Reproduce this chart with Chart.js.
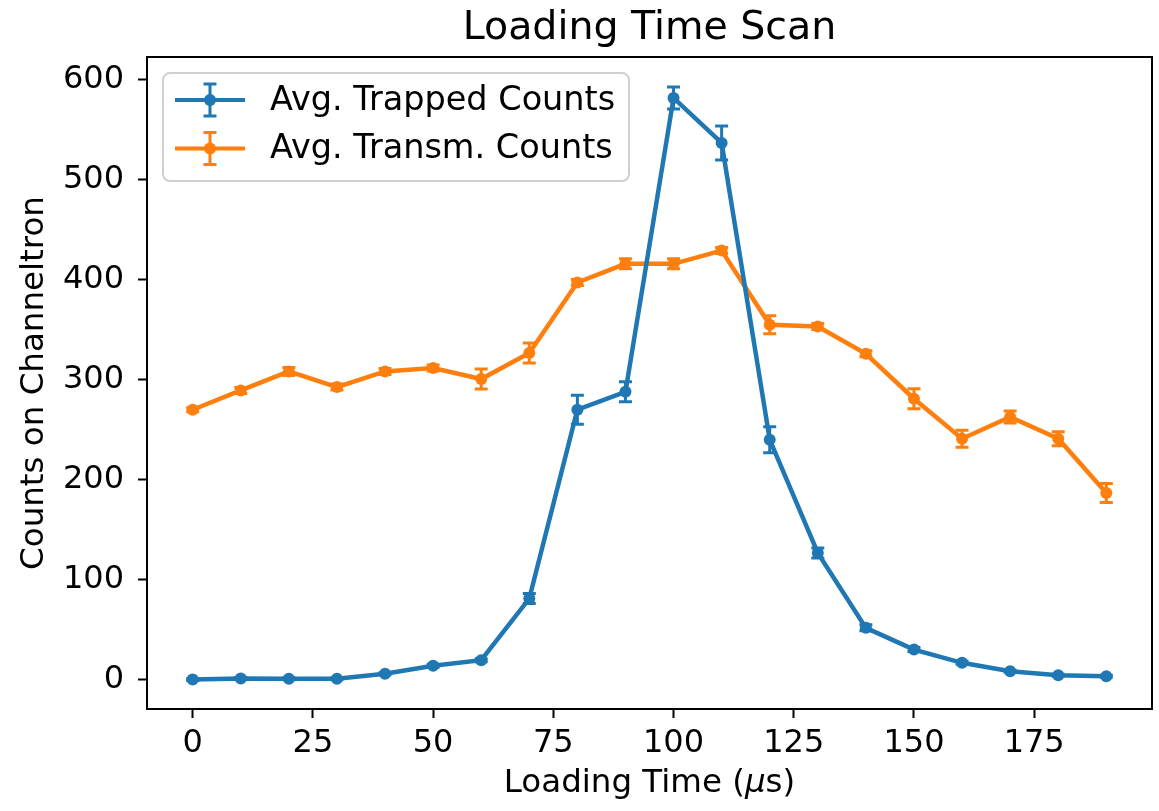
<!DOCTYPE html>
<html lang="en">
<head>
<meta charset="UTF-8">
<title>Loading Time Scan</title>
<style>
    body { margin: 0; background: #fff; }
    #wrap { width: 1159px; height: 811px; position: relative; }
</style>
<script src="https://cdn.jsdelivr.net/npm/chart.js"></script>
</head>
<body>
<div id="wrap"><canvas id="scan"></canvas></div>
<script>
    // loading time in microseconds
    const loadingTimes = [0, 10, 20, 30, 40, 50, 60, 70, 80, 90, 100, 110, 120, 130, 140, 150, 160, 170, 180, 190];

    const trappedCounts = [0, 1, 0.7, 0.7, 5.7, 13.7, 19.3, 81, 270, 288, 582, 537, 240, 126.7, 51.7, 30, 16.7, 8.3, 4.3, 3.3];
    const trappedErr    = [1, 1, 1, 1, 1, 1.5, 1.5, 5, 14.5, 10, 11, 17, 13, 5, 3, 2, 1.5, 1, 1, 1];

    const transmCounts = [270, 289.3, 308.3, 292.7, 308.3, 311.7, 300.7, 326.7, 397.3, 416, 416, 429.3, 355, 353.3, 326, 281, 241, 262.7, 241, 186.7];
    const transmErr    = [2, 3, 4, 3, 3, 3, 10, 10, 3, 5, 5, 3, 9, 3, 3, 10, 8.5, 6, 7, 9.5];

    const xTicks = [0, 25, 50, 75, 100, 125, 150, 175];
    const yTicks = [0, 100, 200, 300, 400, 500, 600];

    const BLUE = '#1f77b4';
    const ORANGE = '#ff7f0e';
    const FONT = "'DejaVu Sans', sans-serif";

    function toPoints(xs, ys, errs) {
        return xs.map((x, i) => ({ x: x, y: ys[i], err: errs[i] }));
    }

    // vertical error bars with caps, drawn under the lines
    const errorBars = {
        id: 'errorBars',
        beforeDatasetsDraw(chart) {
            const ctx = chart.ctx;
            const xs = chart.scales.x, ys = chart.scales.y;
            for (let d = chart.data.datasets.length - 1; d >= 0; d--) {
                const ds = chart.data.datasets[d];
                ctx.save();
                ctx.strokeStyle = ds.borderColor;
                ctx.lineWidth = 3;
                ds.data.forEach(p => {
                    const px = xs.getPixelForValue(p.x);
                    const top = ys.getPixelForValue(p.y + p.err);
                    const bot = ys.getPixelForValue(p.y - p.err);
                    ctx.beginPath();
                    ctx.moveTo(px, top); ctx.lineTo(px, bot);
                    ctx.moveTo(px - 6.5, top); ctx.lineTo(px + 6.5, top);
                    ctx.moveTo(px - 6.5, bot); ctx.lineTo(px + 6.5, bot);
                    ctx.stroke();
                });
                ctx.restore();
            }
        }
    };

    // frame, title, axis labels and legend
    const decorations = {
        id: 'decorations',
        afterDraw(chart) {
            const ctx = chart.ctx;
            const a = chart.chartArea;
            ctx.save();
            ctx.strokeStyle = '#000';
            ctx.lineWidth = 2;
            ctx.strokeRect(a.left, a.top, a.right - a.left, a.bottom - a.top);

            ctx.fillStyle = '#000';
            ctx.textAlign = 'center';
            ctx.textBaseline = 'alphabetic';
            ctx.font = '39.5px ' + FONT;
            ctx.fillText('Loading Time Scan', (a.left + a.right) / 2, 39);

            // x label with italic mu
            ctx.font = '32.5px ' + FONT;
            const p1 = 'Loading Time (', p3 = 's)';
            const w1 = ctx.measureText(p1).width, w3 = ctx.measureText(p3).width;
            ctx.font = 'italic 32.5px ' + FONT;
            const w2 = ctx.measureText('μ').width;
            let x0 = (a.left + a.right) / 2 - (w1 + w2 + w3) / 2;
            const yb = 792;
            ctx.textAlign = 'left';
            ctx.font = '32.5px ' + FONT;
            ctx.fillText(p1, x0, yb);
            ctx.font = 'italic 32.5px ' + FONT;
            ctx.fillText('μ', x0 + w1, yb);
            ctx.font = '32.5px ' + FONT;
            ctx.fillText(p3, x0 + w1 + w2, yb);

            // y label
            ctx.save();
            ctx.translate(43, (a.top + a.bottom) / 2);
            ctx.rotate(-Math.PI / 2);
            ctx.textAlign = 'center';
            ctx.fillText('Counts on Channeltron', 0, 0);
            ctx.restore();

            // legend box
            const lx = 163, ly = 73, lw = 466, lh = 108, r = 7;
            ctx.beginPath();
            ctx.moveTo(lx + r, ly);
            ctx.arcTo(lx + lw, ly, lx + lw, ly + lh, r);
            ctx.arcTo(lx + lw, ly + lh, lx, ly + lh, r);
            ctx.arcTo(lx, ly + lh, lx, ly, r);
            ctx.arcTo(lx, ly, lx + lw, ly, r);
            ctx.closePath();
            ctx.fillStyle = 'rgba(255,255,255,0.8)';
            ctx.fill();
            ctx.strokeStyle = '#d0d0d0';
            ctx.lineWidth = 2;
            ctx.stroke();

            chart.data.datasets.forEach((ds, i) => {
                const cy = 100 + i * 48.5;
                ctx.strokeStyle = ds.borderColor;
                ctx.fillStyle = ds.borderColor;
                ctx.lineWidth = 4;
                ctx.beginPath();
                ctx.moveTo(175, cy); ctx.lineTo(245, cy);
                ctx.stroke();
                ctx.lineWidth = 3;
                ctx.beginPath();
                ctx.moveTo(210, cy - 16); ctx.lineTo(210, cy + 16);
                ctx.moveTo(203.5, cy - 16); ctx.lineTo(216.5, cy - 16);
                ctx.moveTo(203.5, cy + 16); ctx.lineTo(216.5, cy + 16);
                ctx.stroke();
                ctx.beginPath();
                ctx.arc(210, cy, 6, 0, Math.PI * 2);
                ctx.fill();
                ctx.fillStyle = '#000';
                ctx.font = '33.5px ' + FONT;
                ctx.textAlign = 'left';
                ctx.textBaseline = 'middle';
                ctx.fillText(ds.label, 270, cy + 1);
            });
            ctx.restore();
        }
    };

    new Chart(document.getElementById('scan'), {
        type: 'line',
        data: {
            datasets: [
                {
                    label: 'Avg. Trapped Counts',
                    data: toPoints(loadingTimes, trappedCounts, trappedErr),
                    borderColor: BLUE,
                    backgroundColor: BLUE,
                    borderWidth: 4.5,
                    pointRadius: 6,
                    pointBorderWidth: 0,
                    tension: 0
                },
                {
                    label: 'Avg. Transm. Counts',
                    data: toPoints(loadingTimes, transmCounts, transmErr),
                    borderColor: ORANGE,
                    backgroundColor: ORANGE,
                    borderWidth: 4.5,
                    pointRadius: 6,
                    pointBorderWidth: 0,
                    tension: 0
                }
            ]
        },
        options: {
            responsive: true,
            maintainAspectRatio: false,
            animation: false,
            layout: { padding: { top: 57, right: 7, left: 0, bottom: 0 } },
            plugins: {
                legend: { display: false },
                title: { display: false },
                tooltip: { enabled: false }
            },
            scales: {
                x: {
                    type: 'linear',
                    min: -9.5,
                    max: 199.5,
                    afterFit(s) { s.height = 102; },
                    afterBuildTicks(s) { s.ticks = xTicks.map(v => ({ value: v })); },
                    grid: { drawOnChartArea: false, tickLength: 9, tickWidth: 2, tickColor: '#000' },
                    border: { color: '#000', width: 2 },
                    ticks: { color: '#000', font: { family: FONT, size: 32 }, padding: 6, maxRotation: 0 }
                },
                y: {
                    min: -29.5,
                    max: 623,
                    afterFit(s) { s.width = 147; },
                    afterBuildTicks(s) { s.ticks = yTicks.map(v => ({ value: v })); },
                    grid: { drawOnChartArea: false, tickLength: 9, tickWidth: 2, tickColor: '#000' },
                    border: { color: '#000', width: 2 },
                    ticks: { color: '#000', font: { family: FONT, size: 32 }, padding: 14 }
                }
            }
        },
        plugins: [errorBars, decorations]
    });
</script>
</body>
</html>
